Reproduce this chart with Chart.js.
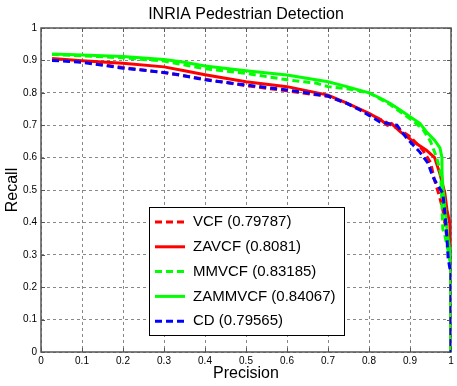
<!DOCTYPE html>
<html lang="en">
<head>
  <meta charset="UTF-8">
  <title>INRIA Pedestrian Detection</title>
  <style>
    body { margin: 0; background: #fff; }
    #wrap { width: 457px; height: 386px; }
  </style>
</head>
<body>
<div id="wrap"><canvas id="prChart" width="457" height="386"></canvas></div>

<script src="https://cdn.jsdelivr.net/npm/chart.js"></script>
<script>
  // precision (x) and recall (y), one pair of arrays per method
  const vcfP = [0.027, 0.1, 0.2, 0.3, 0.4, 0.5, 0.6, 0.7, 0.75, 0.8, 0.84, 0.87, 0.9, 0.93, 0.95, 0.96, 0.972, 0.98, 0.985, 0.99, 0.995, 1.0, 1.0];
  const vcfR = [0.902, 0.896, 0.878, 0.862, 0.842, 0.822, 0.806, 0.789, 0.765, 0.735, 0.71, 0.69, 0.665, 0.625, 0.585, 0.53, 0.48, 0.44, 0.40, 0.35, 0.30, 0.27, 0.0];

  const zavcfP = [0.027, 0.1, 0.2, 0.3, 0.35, 0.4, 0.5, 0.6, 0.7, 0.746, 0.8, 0.83, 0.845, 0.855, 0.876, 0.908, 0.94, 0.96, 0.973, 0.985, 0.99, 0.993, 0.997, 1.0, 1.0];
  const zavcfR = [0.906, 0.899, 0.891, 0.88, 0.868, 0.856, 0.834, 0.819, 0.793, 0.768, 0.737, 0.715, 0.70, 0.705, 0.68, 0.65, 0.623, 0.60, 0.55, 0.49, 0.44, 0.42, 0.40, 0.30, 0.0];

  const mmvcfP = [0.027, 0.1, 0.2, 0.3, 0.4, 0.5, 0.6, 0.67, 0.7, 0.75, 0.8, 0.85, 0.9, 0.93, 0.95, 0.965, 0.975, 0.978, 0.98, 0.985, 0.99, 0.995, 1.0, 1.0];
  const mmvcfR = [0.918, 0.914, 0.908, 0.898, 0.874, 0.86, 0.84, 0.83, 0.819, 0.812, 0.80, 0.765, 0.72, 0.69, 0.65, 0.60, 0.55, 0.45, 0.38, 0.36, 0.33, 0.30, 0.26, 0.0];

  const zammvcfP = [0.027, 0.1, 0.2, 0.3, 0.35, 0.4, 0.5, 0.6, 0.7, 0.746, 0.8, 0.827, 0.851, 0.876, 0.9, 0.924, 0.94, 0.96, 0.973, 0.978, 0.978, 0.98, 0.985, 0.99, 0.995, 1.0, 1.0];
  const zammvcfR = [0.92, 0.917, 0.912, 0.903, 0.894, 0.883, 0.868, 0.855, 0.834, 0.819, 0.80, 0.784, 0.768, 0.747, 0.726, 0.706, 0.68, 0.654, 0.63, 0.60, 0.56, 0.51, 0.45, 0.38, 0.33, 0.28, 0.0];

  const cdP = [0.027, 0.1, 0.2, 0.3, 0.339, 0.4, 0.5, 0.6, 0.7, 0.745, 0.778, 0.827, 0.855, 0.868, 0.892, 0.924, 0.944, 0.956, 0.965, 0.98, 0.985, 0.99, 0.993, 0.997, 1.0, 1.0];
  const cdR = [0.90, 0.894, 0.876, 0.863, 0.855, 0.84, 0.824, 0.809, 0.79, 0.768, 0.747, 0.71, 0.703, 0.70, 0.66, 0.617, 0.583, 0.54, 0.52, 0.49, 0.43, 0.355, 0.29, 0.26, 0.25, 0.0];

  const seriesNames = ['VCF (0.79787)', 'ZAVCF (0.8081)', 'MMVCF (0.83185)', 'ZAMMVCF (0.84067)', 'CD (0.79565)'];
  const tickLabels = ['0', '0.1', '0.2', '0.3', '0.4', '0.5', '0.6', '0.7', '0.8', '0.9', '1'];

  const FONT = '"Liberation Sans", Arial, Helvetica, sans-serif';

  function pts(p, r) {
    return p.map((x, i) => ({ x: x, y: r[i] }));
  }

  // box around the axes with small inward ticks, matlab style
  const axesBox = {
    id: 'axesBox',
    beforeDatasetsDraw(chart) {
      const { ctx, chartArea: a, scales } = chart;
      ctx.save();
      ctx.strokeStyle = '#555';
      ctx.lineWidth = 1;
      ctx.setLineDash([]);
      ctx.beginPath();
      for (let v = 0; v <= 10; v++) {
        const x = Math.round(scales.x.getPixelForValue(v / 10)) + 0.5;
        const y = Math.round(scales.y.getPixelForValue(v / 10)) + 0.5;
        ctx.moveTo(x, a.bottom); ctx.lineTo(x, a.bottom - 4);
        ctx.moveTo(x, a.top); ctx.lineTo(x, a.top + 4);
        ctx.moveTo(a.left, y); ctx.lineTo(a.left + 4, y);
        ctx.moveTo(a.right, y); ctx.lineTo(a.right - 4, y);
      }
      ctx.stroke();
      ctx.lineWidth = 1.5;
      ctx.strokeRect(a.left, a.top, a.right - a.left, a.bottom - a.top);
      ctx.restore();
    }
  };

  // legend box sitting inside the plot
  const boxLegend = {
    id: 'boxLegend',
    afterDraw(chart) {
      const ctx = chart.ctx;
      const x0 = 149, y0 = 207, w = 195, h = 128;
      ctx.save();
      ctx.fillStyle = '#fff';
      ctx.fillRect(x0, y0, w, h);
      ctx.strokeStyle = '#000';
      ctx.lineWidth = 1;
      ctx.strokeRect(x0 + 0.5, y0 + 0.5, w, h);
      chart.data.datasets.forEach((ds, i) => {
        const y = 222 + i * 24.8;
        ctx.strokeStyle = ds.borderColor;
        ctx.lineWidth = 3;
        ctx.setLineDash(ds.borderDash || []);
        ctx.beginPath();
        ctx.moveTo(155, y);
        ctx.lineTo(185, y);
        ctx.stroke();
        ctx.setLineDash([]);
        ctx.fillStyle = '#000';
        ctx.font = '15px ' + FONT;
        ctx.textBaseline = 'middle';
        ctx.fillText(ds.label, 193, y);
      });
      ctx.restore();
    }
  };

  function line(label, p, r, color, dashed, order) {
    return {
      label: label,
      data: pts(p, r),
      borderColor: color,
      borderWidth: 3,
      borderDash: dashed ? [7, 4] : [],
      pointRadius: 0,
      tension: 0,
      fill: false,
      order: order
    };
  }

  const ctx = document.getElementById('prChart').getContext('2d');
  new Chart(ctx, {
    type: 'line',
    data: {
      datasets: [
        line(seriesNames[0], vcfP, vcfR, '#ff0000', true, 4),
        line(seriesNames[1], zavcfP, zavcfR, '#ff0000', false, 3),
        line(seriesNames[2], mmvcfP, mmvcfR, '#00ff00', true, 2),
        line(seriesNames[3], zammvcfP, zammvcfR, '#00ff00', false, 1),
        line(seriesNames[4], cdP, cdR, '#0000ff', true, 0)
      ]
    },
    options: {
      responsive: false,
      animation: false,
      events: [],
      layout: { padding: { left: 0, right: 6, top: 0, bottom: 0 } },
      plugins: {
        legend: { display: false },
        tooltip: { enabled: false },
        title: {
          display: true,
          text: 'INRIA Pedestrian Detection',
          fullSize: false,
          color: '#000',
          font: { family: FONT, size: 16, weight: 'normal' },
          padding: { top: 5, bottom: 3.8 }
        }
      },
      scales: {
        x: {
          type: 'linear',
          min: 0,
          max: 1,
          afterFit(scale) { scale.height = 34; },
          ticks: {
            stepSize: 0.1,
            padding: 3,
            color: '#000',
            maxRotation: 0,
            font: { family: FONT, size: 10 },
            callback: (v, i) => tickLabels[i]
          },
          grid: { color: '#888', lineWidth: 1, drawTicks: false },
          border: { display: false, dash: [3, 3] },
          title: {
            display: true,
            text: 'Precision',
            color: '#000',
            font: { family: FONT, size: 16 },
            padding: { top: 0, bottom: 3 }
          }
        },
        y: {
          type: 'linear',
          min: 0,
          max: 1,
          afterFit(scale) { scale.width = 41; },
          ticks: {
            stepSize: 0.1,
            padding: 4,
            color: '#000',
            font: { family: FONT, size: 10 },
            callback: (v, i) => tickLabels[i]
          },
          grid: { color: '#888', lineWidth: 1, drawTicks: false },
          border: { display: false, dash: [3, 3] },
          title: {
            display: true,
            text: 'Recall',
            color: '#000',
            font: { family: FONT, size: 16 },
            padding: { top: 3, bottom: 0 }
          }
        }
      }
    },
    plugins: [axesBox, boxLegend]
  });
</script>
</body>
</html>
